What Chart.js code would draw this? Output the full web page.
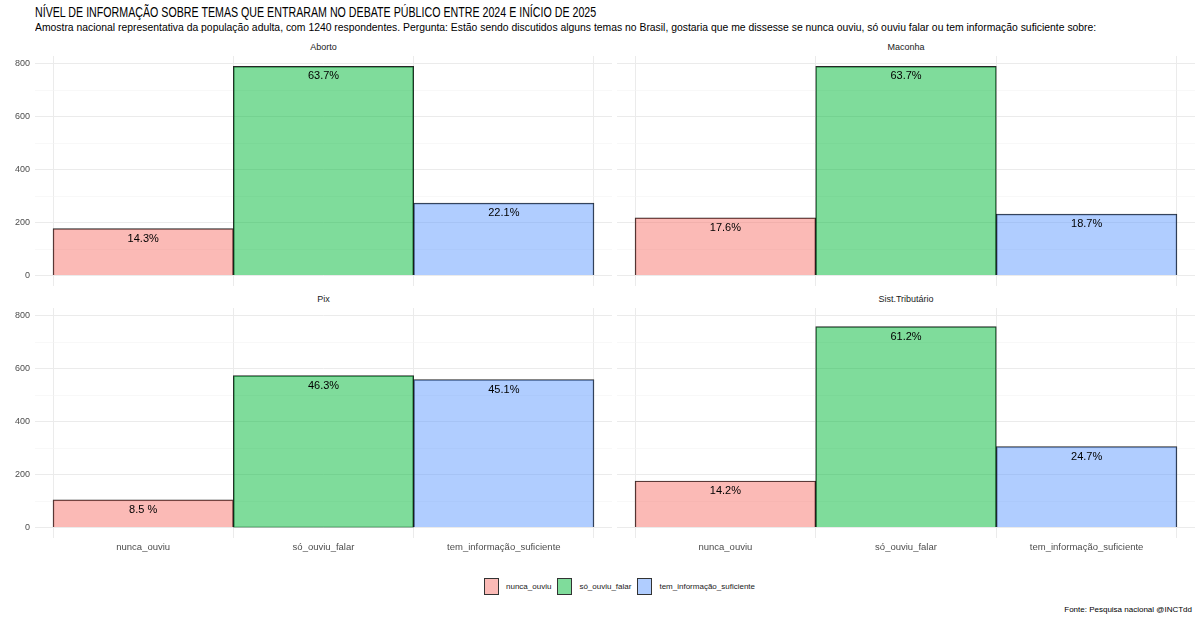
<!DOCTYPE html>
<html>
<head>
<meta charset="utf-8">
<script src="https://cdn.jsdelivr.net/npm/chart.js@4.4.1/dist/chart.umd.min.js"></script>
<style>
  body { margin: 0; width: 1200px; height: 620px; position: relative; background: #fff;
         font-family: "Liberation Sans", Arial, sans-serif; overflow: hidden; }
  .abs { position: absolute; }
  .fit { transform-origin: 0 0; }
  #title { left: 35px; top: 4px; font-size: 14px; color: #000; white-space: nowrap; }
  #subtitle { left: 35px; top: 21px; font-size: 11.5px; color: #000; white-space: nowrap; }
  .strip { font-size: 9px; color: #1a1a1a; text-align: center; }
  #legend { left: 484px; top: 578px; display: flex; align-items: center; font-size: 8px; color: #1a1a1a; }
  .key { width: 15px; height: 17px; border: 1px solid #333; box-sizing: border-box; margin-right: 7px; }
  .item { display: flex; align-items: center; margin-right: 6px; }
  #caption { right: 8px; top: 605px; font-size: 8px; color: #000; }
</style>
</head>
<body>
<div id="title" class="abs fit" data-w="561">NÍVEL DE INFORMAÇÃO SOBRE TEMAS QUE ENTRARAM NO DEBATE PÚBLICO ENTRE 2024 E INÍCIO DE 2025</div>
<div id="subtitle" class="abs fit" data-w="1061">Amostra nacional representativa da população adulta, com 1240 respondentes. Pergunta: Estão sendo discutidos alguns temas no Brasil, gostaria que me dissesse se nunca ouviu, só ouviu falar ou tem informação suficiente sobre:</div>
<div id="legend" class="abs"></div>
<div id="caption" class="abs">Fonte: Pesquisa nacional @INCTdd</div>

<script>
// dados
var temas = ['Aborto', 'Maconha', 'Pix', 'Sist.Tributário'];
var categorias = ['nunca_ouviu', 'só_ouviu_falar', 'tem_informação_suficiente'];

var aborto = [177, 790, 274];
var maconha = [218, 790, 232];
var pix = [105, 574, 559];
var sistTributario = [176, 759, 306];

var rotulosAborto = ['14.3%', '63.7%', '22.1%'];
var rotulosMaconha = ['17.6%', '63.7%', '18.7%'];
var rotulosPix = ['8.5 %', '46.3%', '45.1%'];
var rotulosSist = ['14.2%', '61.2%', '24.7%'];

var yTicks = [0, 100, 200, 300, 400, 500, 600, 700, 800];

var cores = ['rgba(248,118,109,0.5)', 'rgba(0,186,56,0.5)', 'rgba(97,156,255,0.5)'];

var valores = [aborto, maconha, pix, sistTributario];
var rotulos = [rotulosAborto, rotulosMaconha, rotulosPix, rotulosSist];

// paineis: posicao na pagina
var paineis = [
  { left: 0,   top: 56,  width: 612, height: 230, eixoY: true,  eixoX: false },
  { left: 617, top: 56,  width: 578, height: 230, eixoY: false, eixoX: false },
  { left: 0,   top: 308, width: 612, height: 247, eixoY: true,  eixoX: true },
  { left: 617, top: 308, width: 578, height: 247, eixoY: false, eixoX: true }
];

var fonte = '"Liberation Sans", Arial, sans-serif';

var rotuloBarras = {
  id: 'rotuloBarras',
  afterDatasetsDraw: function (chart) {
    var ctx = chart.ctx;
    var meta = chart.getDatasetMeta(0);
    var textos = chart.options.plugins.rotuloBarras.textos;
    ctx.save();
    ctx.font = '11px ' + fonte;
    ctx.fillStyle = '#000';
    ctx.textAlign = 'center';
    ctx.textBaseline = 'middle';
    meta.data.forEach(function (bar, i) {
      ctx.fillText(textos[i], bar.x, bar.y + 10);
    });
    ctx.restore();
  }
};

function makeChart(i) {
  var p = paineis[i];

  var wrap = document.createElement('div');
  wrap.className = 'abs';
  wrap.style.left = p.left + 'px';
  wrap.style.top = p.top + 'px';
  var canvas = document.createElement('canvas');
  canvas.width = p.width;
  canvas.height = p.height;
  wrap.appendChild(canvas);
  document.body.appendChild(wrap);

  var larguraY = p.eixoY ? 35 : 0;
  var strip = document.createElement('div');
  strip.className = 'abs strip';
  strip.style.left = (p.left + larguraY) + 'px';
  strip.style.width = (p.width - larguraY) + 'px';
  strip.style.top = (p.top - 14) + 'px';
  strip.textContent = temas[i];
  document.body.appendChild(strip);

  var pontos = valores[i].map(function (v, j) { return { x: j + 1, y: v }; });

  new Chart(canvas.getContext('2d'), {
    type: 'bar',
    data: {
      datasets: [{
        data: pontos,
        backgroundColor: cores,
        borderColor: 'rgba(0,0,0,0.85)',
        borderWidth: 0.8,
        barPercentage: 1,
        categoryPercentage: 1
      }]
    },
    options: {
      responsive: false,
      animation: false,
      layout: { padding: 0 },
      plugins: {
        legend: { display: false },
        tooltip: { enabled: false },
        rotuloBarras: { textos: rotulos[i] }
      },
      scales: {
        x: {
          type: 'linear',
          min: 0.4,
          max: 3.6,
          offset: false,
          border: { display: false },
          grid: { color: '#ebebeb', lineWidth: 1, drawTicks: false },
          ticks: {
            display: p.eixoX,
            padding: 4,
            color: '#4d4d4d',
            font: { size: 9.5, family: fonte },
            callback: function (v) { return categorias[v - 1]; }
          },
          afterBuildTicks: function (scale) {
            scale.ticks = categorias.map(function (c, j) { return { value: j + 1 }; });
          },
          afterFit: function (scale) {
            scale.height = p.eixoX ? 17 : 0;
            scale.paddingLeft = 0;
            scale.paddingRight = 0;
          }
        },
        y: {
          min: -39.5,
          max: 829.5,
          border: { display: false },
          grid: {
            drawTicks: false,
            color: function (c) { return c.tick && c.tick.value % 200 === 0 ? '#ebebeb' : '#f3f3f3'; },
            lineWidth: function (c) { return c.tick && c.tick.value % 200 === 0 ? 1 : 0.6; }
          },
          ticks: {
            display: p.eixoY,
            padding: 5,
            color: '#4d4d4d',
            font: { size: 9, family: fonte },
            callback: function (v) { return v % 200 === 0 ? v : ''; }
          },
          afterBuildTicks: function (scale) {
            scale.ticks = yTicks.map(function (v) { return { value: v }; });
          },
          afterFit: function (scale) {
            scale.width = larguraY;
            scale.paddingTop = 0;
            scale.paddingBottom = 0;
          }
        }
      }
    },
    plugins: [rotuloBarras]
  });
}

for (var i = 0; i < temas.length; i++) makeChart(i);

// legenda
var legend = document.getElementById('legend');
categorias.forEach(function (c, j) {
  var item = document.createElement('div');
  item.className = 'item';
  var key = document.createElement('div');
  key.className = 'key';
  key.style.background = cores[j];
  var txt = document.createElement('span');
  txt.textContent = c;
  item.appendChild(key);
  item.appendChild(txt);
  legend.appendChild(item);
});

// ajusta largura do titulo e subtitulo
document.querySelectorAll('.fit').forEach(function (el) {
  var alvo = +el.getAttribute('data-w');
  el.style.transform = 'scaleX(' + (alvo / el.scrollWidth) + ')';
});
</script>
</body>
</html>
